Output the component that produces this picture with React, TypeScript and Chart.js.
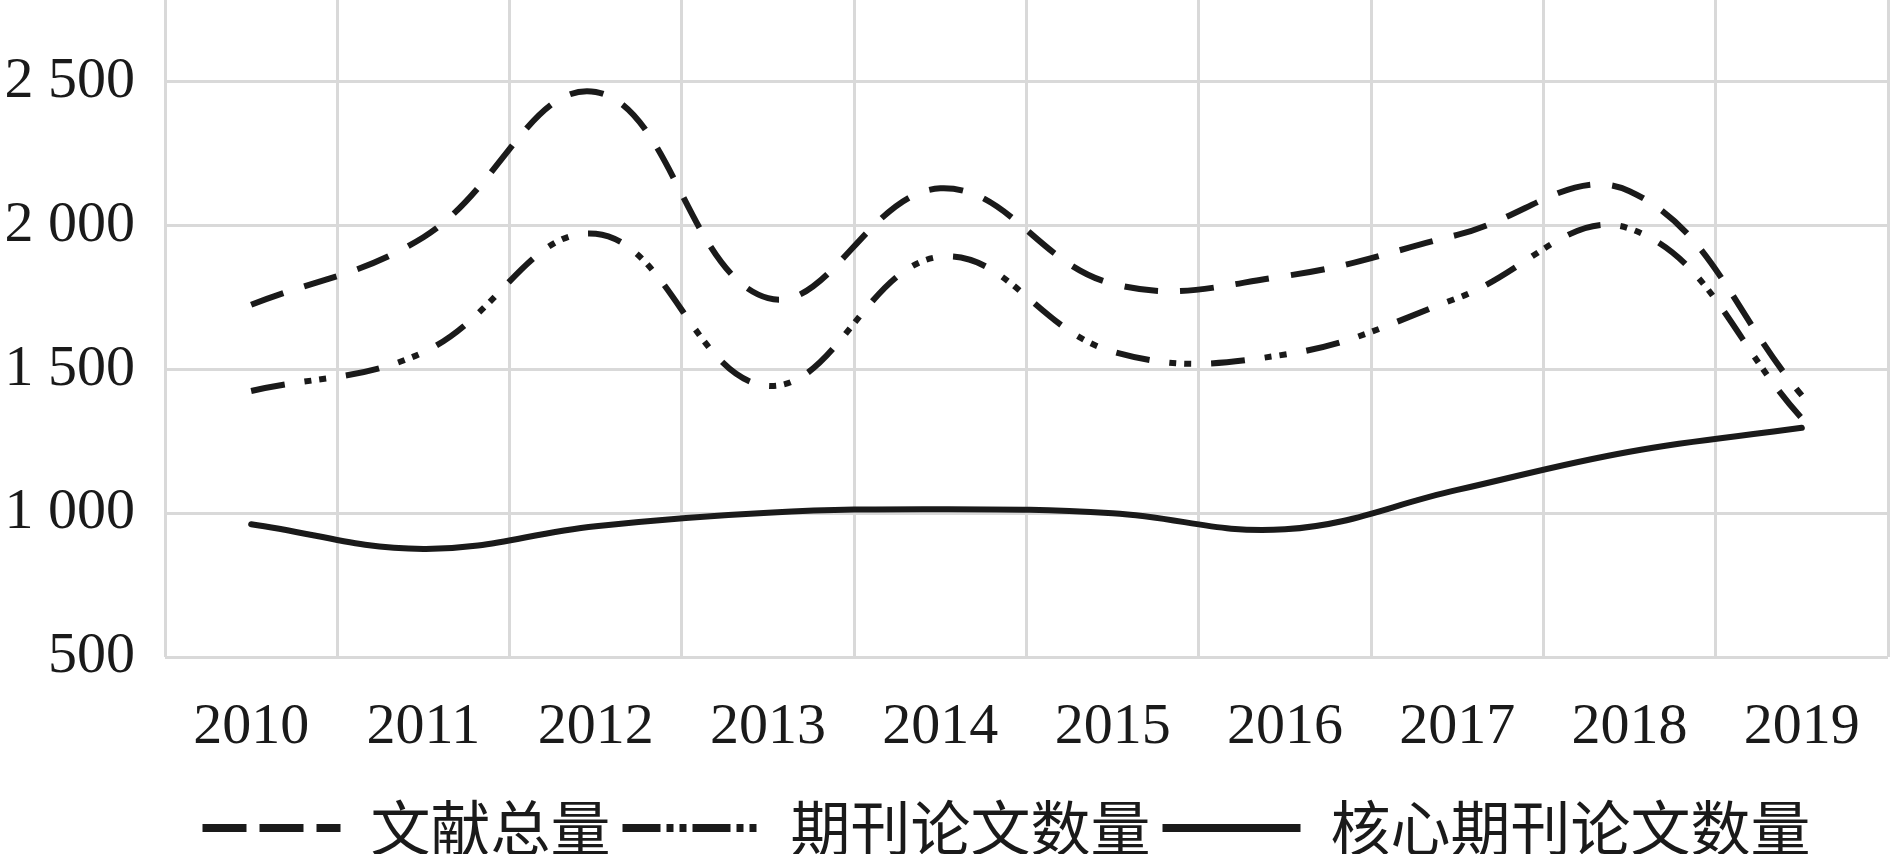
import { useEffect, useRef } from 'react';
import { Chart, registerables } from 'chart.js';

Chart.register(...registerables);

const years = ['2010', '2011', '2012', '2013', '2014', '2015', '2016', '2017', '2018', '2019'];
const totalDocs = [1725, 1960, 2465, 1748, 2130, 1798, 1825, 1968, 2120, 1410];
const journalPapers = [1425, 1560, 1972, 1443, 1892, 1562, 1552, 1748, 1990, 1330];
const corePapers = [962, 876, 955, 1002, 1014, 1000, 944, 1081, 1214, 1297];
const seriesNames = ['文献总量', '期刊论文数量', '核心期刊论文数量'];
const yTicks = [500, 1000, 1500, 2000, 2500];

const INK = '#1a1a1a';
const GRID = '#d9d9d9';
const legendDashes = [[44, 13], [38, 6, 7, 6, 7, 6], []];

// "2500" -> "2 500"
const fmt = (v: number) => String(v).replace(/\B(?=(\d{3})+(?!\d))/g, ' ');

// nudge the legend a little to the left, like the original
const legendShift = {
  id: 'legendShift',
  afterLayout(chart: any) {
    if (chart.legend) {
      chart.legend.left -= 20;
      chart.legend.right -= 20;
    }
  },
};

const LiteratureChart = () => {
  const chartRef = useRef<HTMLCanvasElement | null>(null);

  useEffect(() => {
    if (!chartRef.current) return;
    const ctx = chartRef.current.getContext('2d');
    if (!ctx) return;

    const chart = new Chart(ctx, {
      type: 'line',
      data: {
        labels: years,
        datasets: [
          {
            label: seriesNames[0],
            data: totalDocs,
            borderColor: INK,
            borderWidth: 6,
            borderDash: [34, 22],
            borderCapStyle: 'butt',
          },
          {
            label: seriesNames[1],
            data: journalPapers,
            borderColor: INK,
            borderWidth: 6,
            borderDash: [34, 20, 7, 8, 7, 20],
            borderCapStyle: 'butt',
          },
          {
            label: seriesNames[2],
            data: corePapers,
            borderColor: INK,
            borderWidth: 6,
            borderCapStyle: 'round',
          },
        ],
      },
      options: {
        animation: false,
        responsive: true,
        maintainAspectRatio: false,
        elements: {
          point: { radius: 0, hoverRadius: 0 },
          line: { tension: 0.4, fill: false },
        },
        layout: {
          padding: { left: 0, right: 3, top: 0, bottom: -14 },
        },
        scales: {
          x: {
            offset: true,
            grid: { offset: true, color: GRID, lineWidth: 3, drawTicks: false },
            border: { display: false },
            ticks: {
              color: INK,
              padding: 36,
              maxRotation: 0,
              font: { family: "'Liberation Serif', 'Times New Roman', serif", size: 58 },
            },
            afterFit: (scale: any) => {
              scale.height = 129;
              scale.paddingLeft = 0;
              scale.paddingRight = 0;
            },
          },
          y: {
            min: 500,
            max: 2785,
            grid: { color: GRID, lineWidth: 3, drawTicks: false },
            border: { display: false },
            afterBuildTicks: (scale: any) => {
              scale.ticks = yTicks.map((v) => ({ value: v }));
            },
            ticks: {
              color: INK,
              padding: 30,
              font: { family: "'Liberation Serif', 'Times New Roman', serif", size: 58 },
              callback: (v: any) => fmt(Number(v)),
            },
            afterFit: (scale: any) => {
              scale.width = 165;
              scale.paddingTop = 0;
              scale.paddingBottom = 0;
            },
          },
        },
        plugins: {
          tooltip: { enabled: false },
          legend: {
            position: 'bottom',
            fullSize: false,
            labels: {
              color: INK,
              usePointStyle: true,
              pointStyle: 'line',
              pointStyleWidth: 138,
              padding: 12,
              font: { family: "'Noto Sans CJK SC', sans-serif", size: 60 },
              generateLabels: (c: any) => {
                const items = Chart.defaults.plugins.legend.labels.generateLabels(c);
                return items.map((item: any, i: number) => ({
                  ...item,
                  pointStyle: 'line',
                  lineDash: legendDashes[i],
                  lineWidth: 8,
                  lineCap: 'butt',
                  strokeStyle: INK,
                  fillStyle: INK,
                }));
              },
            },
          },
        },
      } as any,
      plugins: [legendShift],
    });

    return () => {
      chart.destroy();
    };
  }, []);

  return (
    <div style={{ position: 'absolute', left: 0, top: 0, width: 1891, height: 854, background: '#fff' }}>
      <canvas ref={chartRef}></canvas>
    </div>
  );
};

export default function App() {
  return <LiteratureChart />;
}
